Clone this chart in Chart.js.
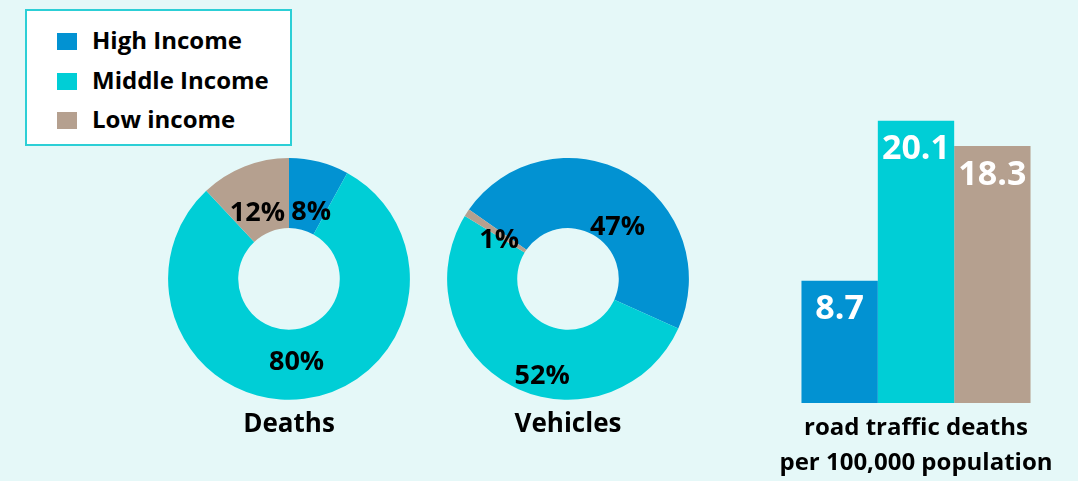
<!DOCTYPE html>
<html>
<head>
<meta charset="utf-8">
<script src="https://cdn.jsdelivr.net/npm/chart.js@4/dist/chart.umd.min.js"></script>
<style>
body { margin: 0; width: 1078px; height: 481px; background: #e5f8f8; position: relative; overflow: hidden; font-family: "Open Sans", sans-serif; }
canvas { position: absolute; }
#legend { position: absolute; left: 25px; top: 9px; width: 267px; height: 137px; box-sizing: border-box; border: 2px solid #2ccfd6; background: #fff; padding: 9px 0 0 30px; }
#legend div { height: 39.5px; line-height: 39.5px; font-weight: bold; font-size: 24px; color: #000; white-space: nowrap; }
#legend span { display: inline-block; width: 20px; height: 17px; margin-right: 15px; vertical-align: -1px; }
</style>
</head>
<body>
<div id="legend"></div>
<canvas id="deaths" width="242" height="282" style="left:168px;top:158px"></canvas>
<canvas id="vehicles" width="242" height="282" style="left:447px;top:158px"></canvas>
<canvas id="rates" width="324" height="387" style="left:754px;top:94px"></canvas>
<script>
const categories = ['High Income', 'Middle Income', 'Low income'];
const deathsShare = [8, 80, 12];
const vehiclesShare = [47, 52, 1];
const deathRates = [8.7, 20.1, 18.3];
const rateTitle = ['road traffic deaths', 'per 100,000 population'];
const colors = ['#0292d2', '#00ced6', '#b5a08f'];

// legend shared by all three charts
const legend = document.getElementById('legend');
categories.forEach((c, i) => {
    const row = document.createElement('div');
    row.innerHTML = '<span style="background:' + colors[i] + '"></span>' + c;
    legend.appendChild(row);
});

// percent labels inside the ring; place = [fraction across ring, angle nudge in degrees]
const pctLabels = {
    id: 'pctLabels',
    afterDatasetsDraw(chart, args, opts) {
        const ctx = chart.ctx;
        const ds = chart.data.datasets[0];
        ctx.save();
        ctx.font = 'bold 27px "Open Sans"';
        ctx.fillStyle = '#000';
        ctx.textAlign = 'center';
        ctx.textBaseline = 'middle';
        chart.getDatasetMeta(0).data.forEach((arc, i) => {
            const p = opts.place[i];
            const a = (arc.startAngle + arc.endAngle) / 2 + p[1] * Math.PI / 180;
            const r = arc.innerRadius + (arc.outerRadius - arc.innerRadius) * p[0];
            ctx.fillText(ds.data[i] + '%', arc.x + Math.cos(a) * r, arc.y + Math.sin(a) * r);
        });
        ctx.restore();
    }
};

function donut(id, values, title, rotation, place) {
    new Chart(document.getElementById(id), {
        type: 'doughnut',
        data: {
            labels: categories,
            datasets: [{ data: values, backgroundColor: colors, borderWidth: 0, hoverOffset: 0 }]
        },
        options: {
            responsive: false,
            animation: false,
            cutout: '42%',
            rotation: rotation,
            layout: { padding: 0 },
            plugins: {
                legend: { display: false },
                tooltip: { enabled: false },
                pctLabels: { place: place },
                title: {
                    display: true,
                    position: 'bottom',
                    text: title,
                    color: '#000',
                    font: { family: 'Open Sans', size: 26, weight: 'bold', lineHeight: 1.2 },
                    padding: { top: 9, bottom: 0 }
                }
            }
        },
        plugins: [pctLabels]
    });
}
donut('deaths', deathsShare, 'Deaths', 0, [[0.28, 4], [0.47, 2], [0.32, -4]]);
donut('vehicles', vehiclesShare, 'Vehicles', -55, [[0.3, 14], [0.72, -13], [0.4, -4]]);

const barLabels = {
    id: 'barLabels',
    afterDatasetsDraw(chart) {
        const ctx = chart.ctx;
        ctx.save();
        ctx.font = 'bold 34px "Open Sans"';
        ctx.fillStyle = '#fff';
        ctx.textAlign = 'center';
        ctx.textBaseline = 'middle';
        chart.data.datasets.forEach((ds, i) => {
            const bar = chart.getDatasetMeta(i).data[0];
            ctx.fillText(ds.data[0].toFixed(1), bar.x, bar.y + 29);
        });
        ctx.restore();
    }
};

new Chart(document.getElementById('rates'), {
    type: 'bar',
    data: {
        labels: [''],
        datasets: categories.map((c, i) => ({
            label: c,
            data: [deathRates[i]],
            backgroundColor: colors[i],
            categoryPercentage: 0.707,
            barPercentage: 1
        }))
    },
    options: {
        responsive: false,
        animation: false,
        layout: { padding: 0 },
        scales: {
            x: { display: false },
            y: { display: false, min: 0, max: 22 }
        },
        plugins: {
            legend: { display: false },
            tooltip: { enabled: false },
            title: {
                display: true,
                position: 'bottom',
                text: rateTitle,
                color: '#000',
                font: { family: 'Open Sans', size: 24, weight: 'bold', lineHeight: 1.46 },
                padding: { top: 8, bottom: 0 }
            }
        }
    },
    plugins: [barLabels]
});
</script>
</body>
</html>
